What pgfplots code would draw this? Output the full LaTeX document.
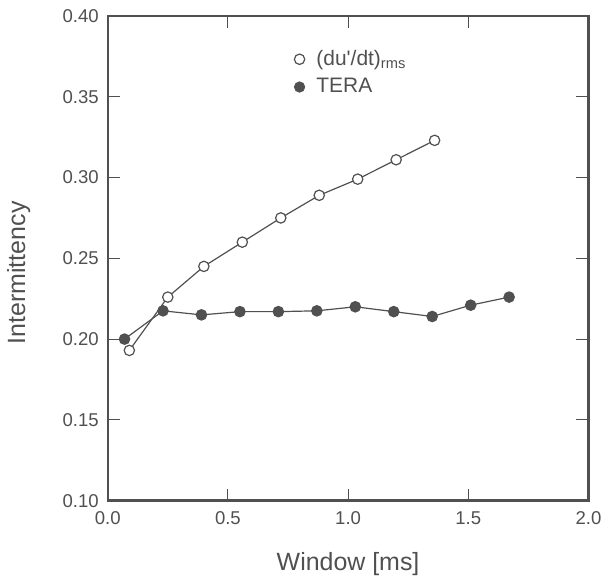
\documentclass[border=0pt]{standalone}
\usepackage{fontspec}
\setmainfont{Liberation Sans}
\usepackage{pgfplots}
\pgfplotsset{compat=1.18}
\definecolor{ink}{RGB}{80,80,80}
\definecolor{dot}{RGB}{80,80,80}

\begin{document}
\begin{tikzpicture}
\begin{axis}[
  scale only axis,
  width=241pt, height=243pt,
  xmin=0, xmax=2, ymin=0.1, ymax=0.4,
  xtick={0,0.5,1,1.5,2},
  ytick={0.10,0.15,0.20,0.25,0.30,0.35,0.40},
  tick align=inside,
  major tick length=6pt,
  tick style={ink, line width=0.5pt},
  axis line style={ink, line width=1.2pt},
  /pgf/number format/assume math mode=true,
  xticklabel style={/pgf/number format/.cd, fixed, fixed zerofill, precision=1},
  yticklabel style={/pgf/number format/.cd, fixed, fixed zerofill, precision=2},
  ticklabel style={font=\fontsize{9.3}{11}\selectfont, text=ink},
  xticklabel shift=2pt,
  yticklabel shift=1pt,
  xlabel={Window [ms]},
  ylabel={Intermittency},
  label style={font=\fontsize{12.5}{15}\selectfont, text=ink},
  xlabel style={at={(axis description cs:0.5,-0.13)}, anchor=center},
  ylabel style={at={(axis description cs:-0.185,0.47)}, anchor=center},
  legend cell align=left,
  legend style={draw=none, fill=none, at={(axis cs:0.75,0.384)}, anchor=north west,
    font=\fontsize{10.5}{12}\selectfont, text=ink, row sep=1pt},
  legend image code/.code={\draw[#1, only marks] plot coordinates {(0cm,0cm)};
    \path (0.22cm,0cm);},
]
% TERA
\addplot[forget plot, dot, line width=0.6pt, mark=*, mark size=2.6pt,
  mark options={fill=dot, draw=dot}] coordinates {
  (0.07,0.200) (0.23,0.2175) (0.39,0.215) (0.55,0.217) (0.71,0.217)
  (0.87,0.2175) (1.03,0.220) (1.19,0.217) (1.35,0.214) (1.51,0.221) (1.67,0.226)
};
% (du'/dt)_rms
\addplot[forget plot, dot, line width=0.6pt, mark=*, mark size=2.6pt,
  mark options={fill=white, draw=dot, line width=0.6pt}] coordinates {
  (0.09,0.193) (0.25,0.226) (0.40,0.245) (0.56,0.260) (0.72,0.275)
  (0.88,0.289) (1.04,0.299) (1.20,0.311) (1.36,0.323)
};
\addlegendimage{only marks, mark=*, mark size=2.6pt, mark options={fill=white, draw=dot, line width=0.6pt}}
\addlegendentry{(du\textquotesingle/dt)\textsubscript{rms}}
\addlegendimage{only marks, mark=*, mark size=2.6pt, mark options={fill=dot, draw=dot}}
\addlegendentry{TERA}
\end{axis}
\path (current axis.south west) ++(-54pt,-39.5pt) rectangle ([shift={(9pt,8pt)}]current axis.north east);
\end{tikzpicture}
\end{document}
